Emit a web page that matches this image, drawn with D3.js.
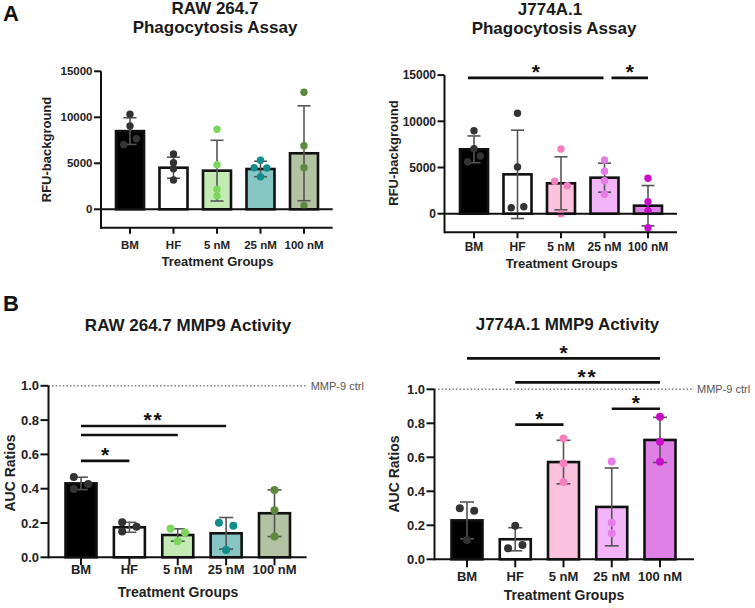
<!DOCTYPE html>
<html>
<head>
<meta charset="utf-8">
<script src="https://cdn.jsdelivr.net/npm/d3@7/dist/d3.min.js"></script>
<style>
  html, body { margin: 0; padding: 0; background: #fff; }
  svg { display: block; font-family: "Liberation Sans", Arial, sans-serif; }
</style>
</head>
<body>
<svg id="chart" width="755" height="608"></svg>
<script>
// ---------------- DATA ----------------
const categories = ["BM", "HF", "5 nM", "25 nM", "100 nM"];

// A: RAW 264.7 Phagocytosis Assay (RFU-background)
const rawPhagoMean = [8500, 4520, 4200, 4380, 6090];
const rawPhagoSD = [1450, 1140, 3300, 840, 5160];
const rawPhagoPoints = [
  [10330, 9050, 7020, 7670],
  [6010, 5070, 4410, 3190],
  [8700, 4850, 2170, 1450],
  [5330, 4520, 4490, 3540],
  [12720, 6910, 4520, 390]
];
const rawPhagoJitter = [[0, 0, -1, 1], [0, 0, 0, 0], [0, 0, 0, 0], [0, -1, 1, 0], [0, 0, 0, 0]];

// A: J774A.1 Phagocytosis Assay
const j774PhagoMean = [6970, 4260, 3290, 3900, 870];
const j774PhagoSD = [1445, 4780, 2870, 1570, 2180];
const j774PhagoPoints = [
  [8980, 7040, 5600, 6250],
  [10870, 5050, 650, 760],
  [7000, 3510, 3030, 0],
  [5810, 4590, 3570, 2100],
  [3830, 1300, 330, -1520]
];
const j774PhagoJitter = [[0, 0, -1, 1], [0, 0, -1, 1], [0, -1, 1, 0], [0, 0, 0, 0], [0, 0, 0, 0]];
const j774PhagoSig = [["BM", "25 nM", 14700, "*"], ["25 nM", "100 nM", 14700, "*"]];

// B: RAW 264.7 MMP9 Activity (AUC Ratios)
const rawMmpMean = [0.431, 0.175, 0.130, 0.140, 0.257];
const rawMmpSD = [0.036, 0.029, 0.036, 0.092, 0.136];
const rawMmpPoints = [
  [0.468, 0.398, 0.427],
  [0.205, 0.150, 0.178],
  [0.167, 0.144, 0.093],
  [0.202, 0.184, 0.043],
  [0.392, 0.274, 0.122]
];
const rawMmpJitter = [[-1, -1, 1], [-1, -1, 1], [-1, 1, 0], [-1, 1, 0], [0, 0, 0]];
const rawMmpSig = [["BM", "25 nM", 0.766, "**"], ["BM", "5 nM", 0.713, ""], ["BM", "HF", 0.562, "*"]];

// B: J774A.1 MMP9 Activity
const j774MmpMean = [0.229, 0.118, 0.572, 0.308, 0.702];
const j774MmpSD = [0.108, 0.068, 0.128, 0.229, 0.133];
const j774MmpPoints = [
  [0.300, 0.285, 0.113],
  [0.198, 0.065, 0.084],
  [0.710, 0.565, 0.455],
  [0.576, 0.215, 0.153],
  [0.839, 0.692, 0.574]
];
const j774MmpJitter = [[-1, 1, 0], [0, -1, 1], [0, 0, 0], [0, 0, 0], [0, 0, 0]];
const j774MmpSig = [["BM", "100 nM", 1.182, "*"], ["HF", "100 nM", 1.041, "**"], ["25 nM", "100 nM", 0.886, "*"], ["HF", "5 nM", 0.792, "*"]];

const phagoTicks = [0, 5000, 10000, 15000];
const mmpTicks = [0, 0.2, 0.4, 0.6, 0.8, 1.0];

const rawFill = ["#000000", "#ffffff", "#c4eab4", "#88c6c6", "#b2c2a2"];
const rawDot = ["#333333", "#333333", "#7cd65e", "#0f8c8c", "#5b8a3c"];
const j774Fill = ["#000000", "#ffffff", "#fcc1dd", "#f2b4f7", "#df80e7"];
const j774Dot = ["#333333", "#333333", "#f57fbe", "#e57ce9", "#c80fc8"];

// ---------------- DRAW ----------------
const svg = d3.select("#chart");

function drawPanel(c) {
  const g = svg.append("g");
  const y = d3.scaleLinear().domain(c.yDomain).range(c.yRange);
  const x = d3.scalePoint().domain(categories).range(c.catRange);
  const ymin = c.yDomain[0], ymax = c.yDomain[1];

  // titles
  c.titles.forEach(t => {
    g.append("text").attr("x", t[1]).attr("y", t[2]).attr("text-anchor", "middle")
      .attr("font-size", 17).attr("font-weight", "bold").attr("fill", "#1a1a1a").text(t[0]);
  });

  // reference dotted line
  if (c.refLine) {
    g.append("line").attr("x1", c.axisX).attr("x2", c.xEnd)
      .attr("y1", y(1)).attr("y2", y(1))
      .attr("stroke", "#777").attr("stroke-width", 1.4).attr("stroke-dasharray", "1.4 2.2");
    g.append("text").attr("x", c.refTextX).attr("y", y(1) + 4)
      .attr("font-size", 11).attr("fill", "#555").text("MMP-9 ctrl");
  }

  // bars
  g.selectAll("rect.bar").data(c.mean).join("rect")
    .attr("x", (d, i) => x(categories[i]) - c.barW / 2)
    .attr("width", c.barW)
    .attr("y", d => y(Math.max(d, 0)))
    .attr("height", d => Math.abs(y(0) - y(d)))
    .attr("fill", (d, i) => c.fill[i])
    .attr("stroke", "#111").attr("stroke-width", 2.6);

  // error bars
  c.mean.forEach((m, i) => {
    const cx = x(categories[i]);
    const lo = y(m - c.sd[i]), hi = y(m + c.sd[i]);
    const eg = g.append("g").attr("stroke", "#555").attr("stroke-width", 1.6);
    eg.append("line").attr("x1", cx).attr("x2", cx).attr("y1", lo).attr("y2", hi);
    eg.append("line").attr("x1", cx - c.capW / 2).attr("x2", cx + c.capW / 2).attr("y1", hi).attr("y2", hi);
    eg.append("line").attr("x1", cx - c.capW / 2).attr("x2", cx + c.capW / 2).attr("y1", lo).attr("y2", lo);
  });

  // points
  c.points.forEach((pts, i) => {
    const cx = x(categories[i]);
    g.selectAll(null).data(pts).join("circle")
      .attr("cx", (d, j) => cx + c.jitter[i][j] * c.spread)
      .attr("cy", d => y(d))
      .attr("r", c.dotR)
      .attr("fill", c.dot[i]);
  });

  // axes
  const ax = g.append("g").attr("stroke", "#111").attr("stroke-width", 2).attr("fill", "none");
  ax.append("line").attr("x1", c.axisX).attr("x2", c.axisX).attr("y1", y(ymax)).attr("y2", y(ymin) + 1);
  ax.append("line").attr("x1", c.axisX).attr("x2", c.xEnd).attr("y1", y(ymin)).attr("y2", y(ymin));
  if (ymin < 0) {
    ax.append("line").attr("x1", c.axisX).attr("x2", c.xEnd).attr("y1", y(0)).attr("y2", y(0));
  }
  c.ticks.forEach(t => {
    ax.append("line").attr("x1", c.axisX - c.tickLen).attr("x2", c.axisX).attr("y1", y(t)).attr("y2", y(t));
    g.append("text").attr("x", c.axisX - c.tickLen - 1.5).attr("y", y(t)).attr("dy", "0.36em")
      .attr("text-anchor", "end").attr("font-size", c.tickFont).attr("font-weight", "bold")
      .attr("fill", "#222").text(c.tickFmt(t));
  });
  categories.forEach(cat => {
    ax.append("line").attr("x1", x(cat)).attr("x2", x(cat)).attr("y1", y(ymin)).attr("y2", y(ymin) + c.xTickLen);
    g.append("text").attr("x", x(cat)).attr("y", c.xLabelY).attr("text-anchor", "middle")
      .attr("font-size", c.tickFont).attr("font-weight", "bold").attr("fill", "#222").text(cat);
  });

  // axis titles
  g.append("text").attr("x", c.xTitle[0]).attr("y", c.xTitle[1]).attr("text-anchor", "middle")
    .attr("font-size", c.axisFont).attr("font-weight", "bold").attr("fill", "#222").text("Treatment Groups");
  g.append("text").attr("transform", `translate(${c.yTitle[0]},${c.yTitle[1]}) rotate(-90)`)
    .attr("text-anchor", "middle").attr("font-size", c.axisFont).attr("font-weight", "bold")
    .attr("fill", "#222").text(c.yTitleText);

  // significance
  (c.sig || []).forEach(s => {
    let x1 = x(s[0]), x2 = x(s[1]);
    const shared = (c.sig || []).some(o => o !== s && o[1] === s[0] && o[2] === s[2]);
    const sharedEnd = (c.sig || []).some(o => o !== s && o[0] === s[1] && o[2] === s[2]);
    if (shared) x1 += 7;
    if (sharedEnd) x2 -= 1;
    if (!shared && c.sigStartOffset) x1 += c.sigStartOffset;
    const ly = y(s[2]);
    g.append("line").attr("x1", x1).attr("x2", x2).attr("y1", ly).attr("y2", ly)
      .attr("stroke", "#111").attr("stroke-width", 2.6);
    if (s[3]) {
      g.append("text").attr("x", (x1 + x2) / 2).attr("y", ly + 1.5)
        .attr("text-anchor", "middle").attr("font-size", 21).attr("font-weight", "bold")
        .attr("letter-spacing", s[3].length > 1 ? 2 : 0)
        .attr("fill", "#111").text(s[3]);
    }
  });
}

const fmtInt = d3.format("d");
const fmt1 = d3.format(".1f");

// Panel A left
drawPanel({
  yDomain: [-2000, 15000], yRange: [227.7, 71.3], catRange: [130, 304],
  axisX: 101, xEnd: 332.7, barW: 28, capW: 13, dotR: 3.7, spread: 6.3,
  mean: rawPhagoMean, sd: rawPhagoSD, points: rawPhagoPoints, jitter: rawPhagoJitter,
  fill: rawFill, dot: rawDot, ticks: phagoTicks, tickFmt: fmtInt,
  tickLen: 7, xTickLen: 6, tickFont: 11.5, axisFont: 13, xLabelY: 249,
  xTitle: [217.5, 266], yTitle: [51, 149.5], yTitleText: "RFU-background",
  titles: [["RAW 264.7", 215, 14], ["Phagocytosis Assay", 215, 33]]
});

// Panel A right
drawPanel({
  yDomain: [-2000, 15000], yRange: [232.2, 75.1], catRange: [474, 648],
  axisX: 444.5, xEnd: 677, barW: 28, capW: 13, dotR: 3.7, spread: 6.3,
  mean: j774PhagoMean, sd: j774PhagoSD, points: j774PhagoPoints, jitter: j774PhagoJitter,
  fill: j774Fill, dot: j774Dot, ticks: phagoTicks, tickFmt: fmtInt,
  tickLen: 7, xTickLen: 6, tickFont: 12, axisFont: 13, xLabelY: 251,
  xTitle: [561.7, 267.5], yTitle: [397.5, 153], yTitleText: "RFU-background",
  sig: j774PhagoSig, sigStartOffset: -6,
  titles: [["J774A.1", 550, 15], ["Phagocytosis Assay", 554, 34]]
});

// Panel B left
drawPanel({
  yDomain: [0, 1], yRange: [557.3, 385.8], catRange: [81, 274.5],
  axisX: 48.5, xEnd: 306.7, barW: 31, capW: 14, dotR: 4, spread: 7.2,
  mean: rawMmpMean, sd: rawMmpSD, points: rawMmpPoints, jitter: rawMmpJitter,
  fill: rawFill, dot: rawDot, ticks: mmpTicks, tickFmt: fmt1,
  tickLen: 8, xTickLen: 8, tickFont: 13, axisFont: 14, xLabelY: 574,
  xTitle: [178, 597], yTitle: [15, 473], yTitleText: "AUC Ratios",
  refLine: true, refTextX: 310.7, sig: rawMmpSig,
  titles: [["RAW 264.7 MMP9 Activity", 188, 331]]
});

// Panel B right
drawPanel({
  yDomain: [0, 1], yRange: [559.3, 389.3], catRange: [467, 660],
  axisX: 434.5, xEnd: 694, barW: 31, capW: 14, dotR: 4, spread: 7.2,
  mean: j774MmpMean, sd: j774MmpSD, points: j774MmpPoints, jitter: j774MmpJitter,
  fill: j774Fill, dot: j774Dot, ticks: mmpTicks, tickFmt: fmt1,
  tickLen: 8, xTickLen: 8, tickFont: 13, axisFont: 14, xLabelY: 581,
  xTitle: [564, 600], yTitle: [399, 474], yTitleText: "AUC Ratios",
  refLine: true, refTextX: 697, sig: j774MmpSig,
  titles: [["J774A.1 MMP9 Activity", 567.5, 330]]
});

// panel letters
svg.append("text").attr("x", 3).attr("y", 21).attr("font-size", 22).attr("font-weight", "bold")
  .attr("fill", "#111").text("A");
svg.append("text").attr("x", 3).attr("y", 311).attr("font-size", 22).attr("font-weight", "bold")
  .attr("fill", "#111").text("B");
</script>
</body>
</html>
